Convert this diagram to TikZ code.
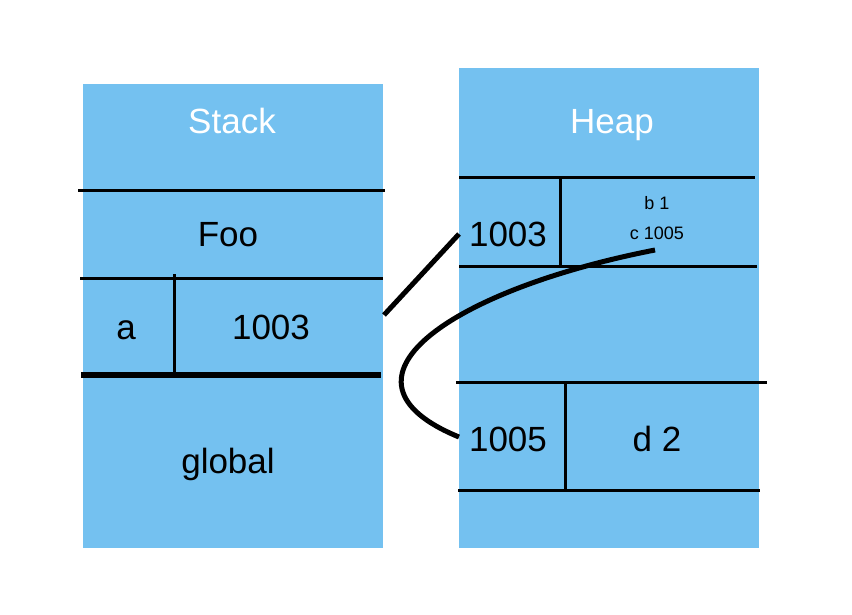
\documentclass[tikz,border=0pt]{standalone}
\usepackage{fontspec}
\setmainfont{Liberation Sans}
\usetikzlibrary{positioning}
\definecolor{memblue}{RGB}{116,193,240}
\begin{document}
\begin{tikzpicture}[x=1pt,y=-1pt,
  area/.style={fill=memblue,draw=none},
  title/.style={anchor=base,text=white,font=\fontsize{35}{40}\selectfont},
  big/.style={anchor=base,font=\fontsize{35}{40}\selectfont},
  small/.style={anchor=base,font=\fontsize{18}{20}\selectfont},
  rule/.style={line width=3pt},
  link/.style={line width=5pt}]
  \useasboundingbox (0,0) rectangle (852,614);
  % the two memory areas
  \path[area] (83,84) rectangle (383,548);
  \path[area] (459,68) rectangle (759,548);
  \node[title] (stack) at (232,133) {Stack};
  \node[title] (heap) at (612,133) {Heap};
  % stack frames
  \draw[rule] (78,190) -- (385,190);
  \draw[rule] (80,278) -- (383,278);
  \draw[rule] (174,274) -- (174,375);
  \draw[line width=6pt] (81,375) -- (381,375);
  \node[big] (foo) at (228,246) {Foo};
  \node[big] (vara) at (126,339) {a};
  \node[big] (ptra) at (271,339) {1003};
  \node[big] (global) at (228,473) {global};
  % heap objects
  \draw[rule] (459,177) -- (755,177);
  \draw[rule] (560,177) -- (560,266);
  \draw[rule] (459,266) -- (757,266);
  \draw[rule] (456,382) -- (767,382);
  \draw[rule] (565,382) -- (565,490);
  \draw[rule] (458,490) -- (760,490);
  \node[big] (addrb) at (508,246) {1003};
  \node[small] (fieldb) at (657,209) {b 1};
  \node[small] (fieldc) at (657,239) {c 1005};
  \node[big] (addrd) at (508,451) {1005};
  \node[big] (fieldd) at (657,451) {d 2};
  % references
  \coordinate (afrom) at (384,315);
  \coordinate (ato) at (459,234);
  \coordinate (cfrom) at (655,250);
  \coordinate (cto) at (459,437);
  \draw[link] (afrom) -- (ato);
  \draw[link] (cfrom) .. controls (450,290) and (320,380) .. (cto);
\end{tikzpicture}
\end{document}
